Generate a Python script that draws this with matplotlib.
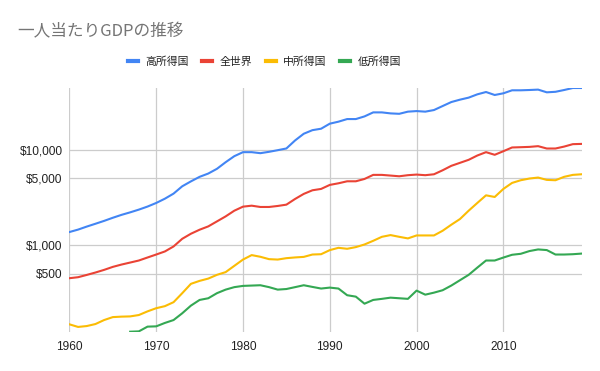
import matplotlib
matplotlib.use("Agg")
import matplotlib.pyplot as plt
from matplotlib.lines import Line2D
from matplotlib.ticker import FixedLocator, NullLocator

plt.rcParams['font.family'] = ['Noto Sans CJK JP', 'DejaVu Sans']

years = list(range(1960, 2020))

high_income = [1367, 1450, 1560, 1670, 1790, 1930, 2070, 2200, 2350, 2530,
               2760, 3060, 3460, 4130, 4650, 5190, 5620, 6300, 7390, 8550,
               9420, 9420, 9190, 9500, 9880, 10300, 12500, 14700, 16030, 16600,
               18750, 19680, 20960, 20960, 22350, 24630, 24630, 24040, 23800, 25070,
               25420, 25070, 26060, 28710, 31620, 33500, 35180, 38100, 40300, 37500,
               39060, 42000, 42000, 42300, 42700, 40000, 40500, 42300, 44400, 44400]

world = [448, 459, 485, 514, 548, 589, 623, 654, 687, 739,
         794, 855, 965, 1161, 1312, 1446, 1567, 1768, 1995, 2290,
         2525, 2585, 2505, 2505, 2567, 2650, 3040, 3436, 3750, 3875,
         4270, 4440, 4660, 4660, 4930, 5440, 5440, 5350, 5260, 5400,
         5480, 5400, 5520, 6080, 6770, 7280, 7830, 8690, 9420, 8840,
         9640, 10550, 10620, 10700, 10890, 10290, 10290, 10780, 11430, 11500]

middle_income = [147, 138, 141, 148, 163, 175, 177, 178, 184, 201,
                 217, 228, 251, 312, 391, 420, 444, 486, 519, 604,
                 703, 783, 752, 710, 703, 727, 740, 750, 794, 800,
                 883, 934, 912, 950, 1012, 1106, 1218, 1270, 1218, 1172,
                 1259, 1259, 1259, 1410, 1632, 1872, 2290, 2762, 3320, 3190,
                 3875, 4480, 4780, 4980, 5100, 4820, 4780, 5190, 5440, 5520]

low_years = list(range(1967, 2020))
low_income = [123, 124, 139, 140, 152, 163, 192, 231, 265, 276,
              312, 340, 361, 372, 375, 378, 361, 340, 345, 361,
              378, 363, 349, 357, 349, 297, 287, 242, 265, 272,
              280, 276, 272, 332, 301, 316, 335, 375, 427, 486,
              579, 687, 687, 738, 789, 808, 863, 898, 884, 794,
              794, 800, 812]

labels = ['高所得国', '全世界', '中所得国', '低所得国']
colors = ['#4285F4', '#EA4335', '#FBBC04', '#34A853']

y_ticks = [500, 1000, 5000, 10000]
y_tick_labels = ['$500', '$1,000', '$5,000', '$10,000']
x_ticks = [1960, 1970, 1980, 1990, 2000, 2010]

fig = plt.figure(figsize=(6.0, 3.71), dpi=100)
ax = fig.add_axes([69.4 / 600, 1 - 331.7 / 371, (581.5 - 69.4) / 600, (331.7 - 88) / 371])

series = [(years, high_income), (years, world), (years, middle_income), (low_years, low_income)]
for (xs, ys), c in zip(series, colors):
    ax.plot(xs, ys, color=c, lw=1.5, solid_joinstyle='round', zorder=3)

ax.set_yscale('log')
allv = high_income + world + middle_income + low_income
ax.set_ylim(min(allv), max(allv))
ax.set_xlim(1960, 2019)

ax.yaxis.set_major_locator(FixedLocator(y_ticks))
ax.yaxis.set_minor_locator(NullLocator())
ax.set_yticklabels(y_tick_labels)
ax.set_xticks(x_ticks)
ax.set_xticklabels([str(x) for x in x_ticks])

for s in ax.spines.values():
    s.set_visible(False)
ax.grid(True, color='#cccccc', lw=0.9, zorder=0)
ax.tick_params(length=0, labelsize=8.6, colors='#222222', pad=5)
ax.tick_params(axis='x', pad=7)
for lab in ax.get_xticklabels() + ax.get_yticklabels():
    lab.set_family(['Liberation Sans', 'DejaVu Sans'])

fig.text(17 / 600, 1 - 32.3 / 371, '一人当たりGDPの推移', fontsize=12, color='#757575',
         ha='left', va='center')

handles = [Line2D([0], [0], color=c, lw=3) for c in colors]
fig.legend(handles, labels, loc='center left', bbox_to_anchor=(128 / 600, 1 - 61.5 / 371), ncol=4,
           frameon=False, fontsize=7.8, handlelength=0.9, handletextpad=0.7,
           columnspacing=1.25, labelcolor='#222222', borderpad=0, borderaxespad=0)

fig.savefig('out.png', dpi=100)
